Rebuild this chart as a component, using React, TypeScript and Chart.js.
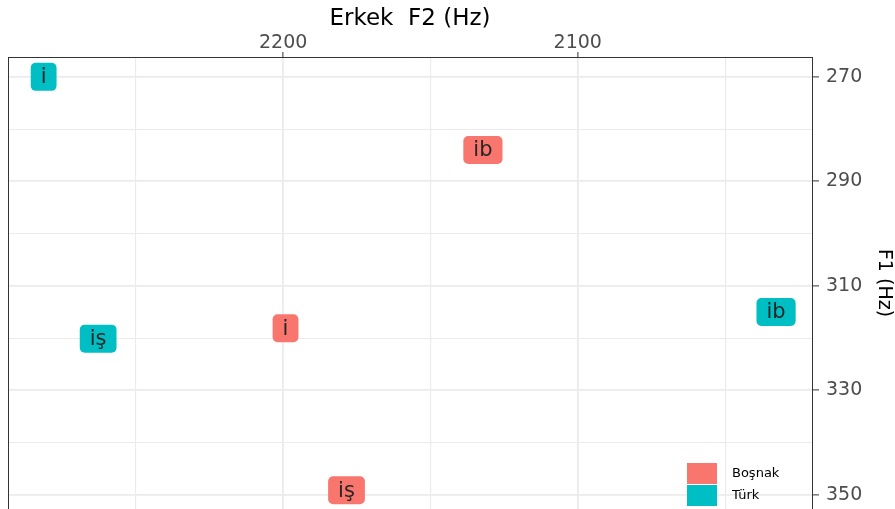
import React, { useEffect, useRef } from 'react';
import { Chart, registerables } from 'chart.js';

Chart.register(...registerables);

const groups = ['Boşnak', 'Türk'];
const groupColors = ['#F8766D', '#00BFC4'];
const vowels = ['i', 'ib', 'iş'];
const bosnakF2 = [2199.2, 2132.2, 2178.5];
const bosnakF1 = [318.1, 284.0, 349.1];
const turkF2 = [2281.3, 2032.7, 2262.8];
const turkF1 = [270.0, 315.0, 320.1];
const xTicks = [2050, 2100, 2150, 2200, 2250];
const xLabelTicks = [2100, 2200];
const yTicks = [270, 280, 290, 300, 310, 320, 330, 340, 350];
const yLabelTicks = [270, 290, 310, 330, 350];
const xRange = [2020.5, 2293.4];
const yRange = [266.2, 352.7];
const xTitle = 'Erkek  F2 (Hz)';
const yTitle = 'F1 (Hz)';

const FONT = '"DejaVu Sans", "Liberation Sans", sans-serif';

const labelPlugin = {
  id: 'vowelLabels',
  afterDatasetsDraw(chart: any) {
    const ctx = chart.ctx;
    const { left, top, right, bottom } = chart.chartArea;
    ctx.save();
    ctx.beginPath();
    ctx.rect(left, top, right - left, bottom - top);
    ctx.clip();
    ctx.font = `21px ${FONT}`;
    ctx.textAlign = 'center';
    ctx.textBaseline = 'middle';
    chart.data.datasets.forEach((ds: any, di: number) => {
      const meta = chart.getDatasetMeta(di);
      meta.data.forEach((el: any, i: number) => {
        const text = vowels[i];
        const w = ctx.measureText(text).width + 20;
        const h = 28;
        ctx.fillStyle = ds.backgroundColor;
        ctx.beginPath();
        ctx.roundRect(el.x - w / 2, el.y - h / 2, w, h, 5);
        ctx.fill();
        ctx.fillStyle = '#262626';
        ctx.fillText(text, el.x, el.y + 1);
      });
    });
    ctx.restore();
  },
  afterDraw(chart: any) {
    const ctx = chart.ctx;
    const { left, top, right, bottom } = chart.chartArea;
    ctx.save();
    ctx.strokeStyle = '#333333';
    ctx.lineWidth = 1;
    ctx.beginPath();
    ctx.moveTo(left + 0.5, top);
    ctx.lineTo(left + 0.5, bottom);
    ctx.stroke();
    const lx = right - 125;
    const ly = bottom - 46;
    groups.forEach((g, i) => {
      ctx.fillStyle = groupColors[i];
      ctx.fillRect(lx, ly + i * 22, 30, 21);
      ctx.fillStyle = '#000000';
      ctx.font = `13px ${FONT}`;
      ctx.textAlign = 'left';
      ctx.textBaseline = 'middle';
      ctx.fillText(g, lx + 45, ly + 11 + i * 22);
    });
    ctx.restore();
  },
};

export default function App() {
  const ref = useRef<HTMLCanvasElement>(null);
  useEffect(() => {
    if (!ref.current) return;
    Chart.defaults.font.family = FONT;
    const isMajorX = (v: number) => xLabelTicks.includes(v);
    const isMajorY = (v: number) => yLabelTicks.includes(v);
    const chart = new Chart(ref.current, {
      type: 'scatter',
      data: {
        datasets: [
          {
            label: groups[0],
            data: bosnakF2.map((x, i) => ({ x, y: bosnakF1[i] })),
            backgroundColor: groupColors[0],
            pointRadius: 0,
          },
          {
            label: groups[1],
            data: turkF2.map((x, i) => ({ x, y: turkF1[i] })),
            backgroundColor: groupColors[1],
            pointRadius: 0,
          },
        ],
      },
      options: {
        animation: false,
        responsive: true,
        maintainAspectRatio: false,
        layout: { padding: { left: 8, right: 0, top: 0, bottom: 0 } },
        plugins: { legend: { display: false }, tooltip: { enabled: false } },
        scales: {
          x: {
            type: 'linear',
            position: 'top',
            reverse: true,
            min: xRange[0],
            max: xRange[1],
            afterBuildTicks: (s: any) => {
              s.ticks = xTicks.map((v) => ({ value: v }));
            },
            afterFit: (s: any) => {
              s.height = 57;
              s.paddingLeft = 0;
              s.paddingRight = 0;
            },
            ticks: {
              autoSkip: false,
              maxRotation: 0,
              padding: -2,
              color: '#4D4D4D',
              font: { size: 19, family: FONT },
              callback: (v: any) => (isMajorX(Number(v)) ? String(v) : ''),
            },
            grid: {
              color: '#EBEBEB',
              lineWidth: (c: any) => (c.tick && isMajorX(c.tick.value) ? 1.8 : 1.1),
              tickColor: (c: any) => (c.tick && isMajorX(c.tick.value) ? '#333333' : 'rgba(0,0,0,0)'),
              tickLength: 5,
              tickWidth: 1,
            },
            border: { display: true, color: '#333333', width: 1 },
            title: {
              display: true,
              text: xTitle,
              color: '#000000',
              font: { size: 23, family: FONT },
              padding: { top: 5, bottom: 0 },
            },
          },
          y: {
            type: 'linear',
            position: 'right',
            reverse: true,
            min: yRange[0],
            max: yRange[1],
            afterBuildTicks: (s: any) => {
              s.ticks = yTicks.map((v) => ({ value: v }));
            },
            afterFit: (s: any) => {
              s.width = 83;
              s.paddingTop = 0;
              s.paddingBottom = 0;
            },
            ticks: {
              autoSkip: false,
              padding: 7,
              color: '#4D4D4D',
              font: { size: 19, family: FONT },
              callback: (v: any) => (isMajorY(Number(v)) ? String(v) : ''),
            },
            grid: {
              color: '#EBEBEB',
              lineWidth: (c: any) => (c.tick && isMajorY(c.tick.value) ? 1.8 : 1.1),
              tickColor: (c: any) => (c.tick && isMajorY(c.tick.value) ? '#333333' : 'rgba(0,0,0,0)'),
              tickLength: 7,
              tickWidth: 1,
            },
            border: { display: true, color: '#333333', width: 1 },
            title: {
              display: true,
              text: yTitle,
              color: '#000000',
              font: { size: 19, family: FONT },
              padding: { top: 0, bottom: 0 },
            },
          },
        },
      } as any,
      plugins: [labelPlugin],
    });
    return () => chart.destroy();
  }, []);
  return (
    <div style={{ position: 'fixed', left: 0, top: 0, width: 895, height: 509, background: '#ffffff' }}>
      <canvas ref={ref} />
    </div>
  );
}
